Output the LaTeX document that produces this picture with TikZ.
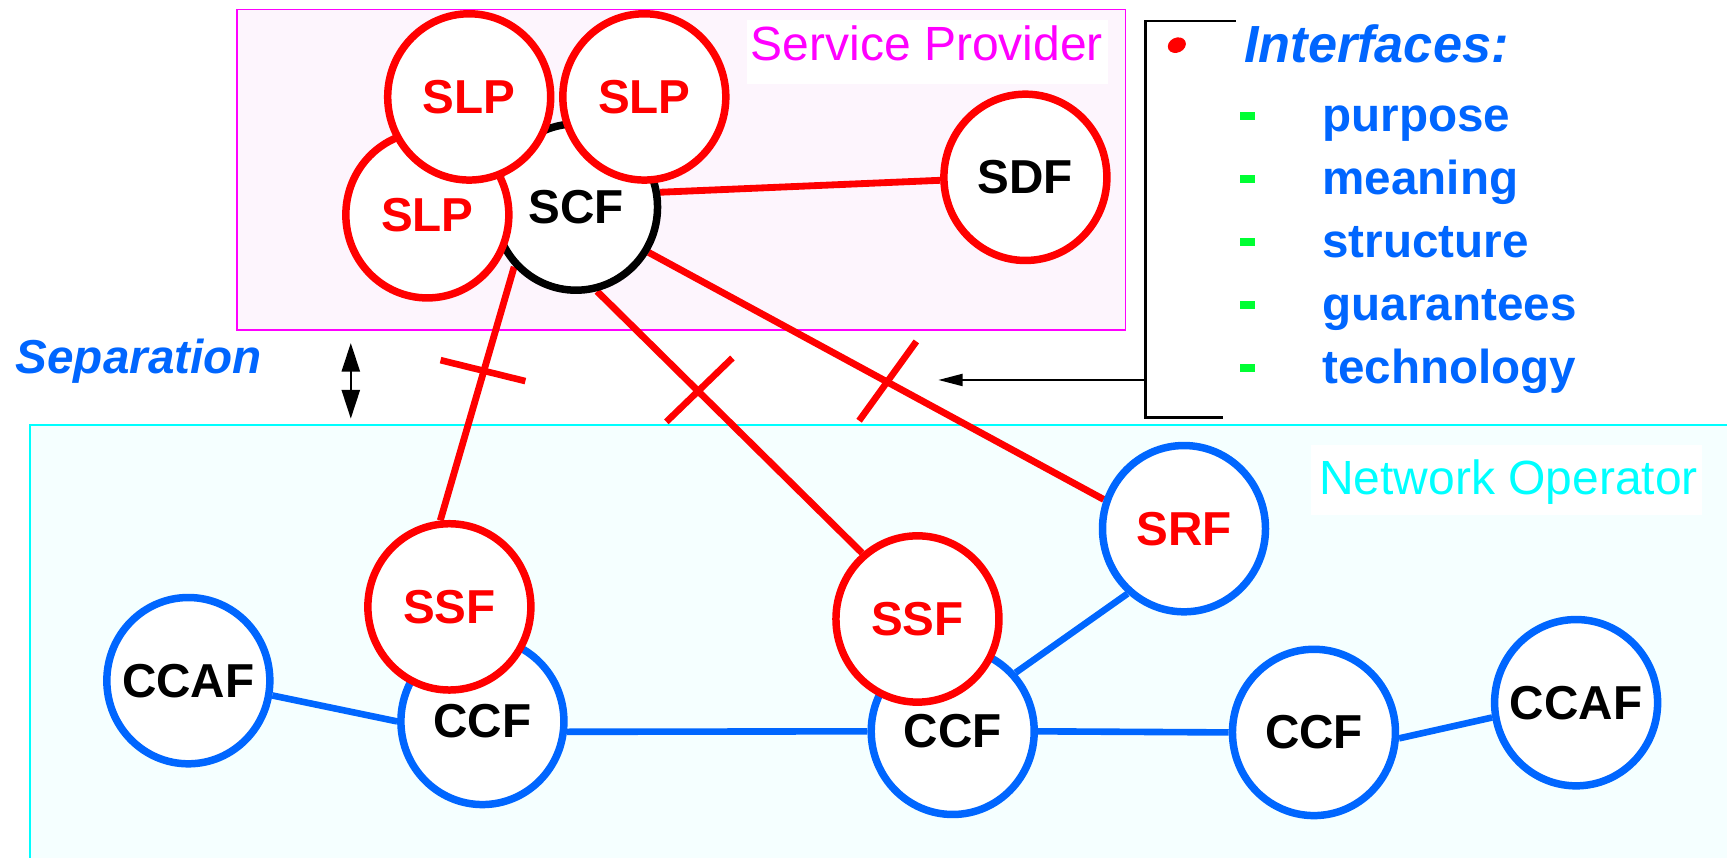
\documentclass[tikz,border=0pt]{standalone}
\usepackage{fontspec}
\setmainfont{Liberation Sans}
\usetikzlibrary{shapes.geometric,arrows.meta}
\definecolor{myred}{HTML}{FF0000}
\definecolor{myblue}{HTML}{0066FF}
\definecolor{mygreen}{HTML}{00FF33}
\definecolor{spfill}{HTML}{FDF5FD}
\definecolor{nofill}{HTML}{F5FFFF}
\definecolor{mymag}{HTML}{FF00FF}
\definecolor{mycyan}{HTML}{00FFFF}
\newcommand\fixlbl[1]{\makebox[0pt][c]{#1}}
\pgfdeclarelayer{bg}
\pgfdeclarelayer{edges}
\pgfsetlayers{bg,edges,main}
\begin{document}
\begin{tikzpicture}[x=0.1mm,y=-0.1mm,
  fn/.style={ellipse, line width=0.68mm, fill=white, minimum width=14.8mm, minimum height=15.1mm, inner sep=0pt, font=\fontsize{12.3}{14}\selectfont\bfseries},
  rr/.style={fn, draw=myred, text=myred},
  rk/.style={fn, draw=myred, text=black},
  kk/.style={fn, draw=black, text=black},
  br/.style={fn, draw=myblue, text=myred},
  bk/.style={fn, draw=myblue, text=black},
  redge/.style={draw=myred, line width=0.62mm},
  bedge/.style={draw=myblue, line width=0.6mm},
  crosstick/.style={draw=myred, line width=0.6mm},
  listitem/.style={anchor=base west, inner sep=0pt, text=myblue, font=\fontsize{12.3}{14}\selectfont\bfseries},
  boxlabel/.style={anchor=base west, inner sep=0pt, font=\fontsize{12.4}{14}\selectfont},
  greendash/.style={fill=mygreen},
]
\useasboundingbox (0,0) rectangle (1568,779);
\clip (0,0) rectangle (1568,779);

% nodes (front to back order matters)
\node[kk] (SCF) at (523,188) {\fixlbl{SCF}};
\node[rr] (SLPc) at (388,195) {\fixlbl{SLP}};
\node[rr] (SLPa) at (426,88) {\fixlbl{SLP}};
\node[rr] (SLPb) at (585,88) {\fixlbl{SLP}};
\node[rk] (SDF) at (931,161) {\fixlbl{SDF}};
\node[br] (SRF) at (1075,480) {\fixlbl{SRF}};
\node[bk] (CCAFa) at (171,618) {\fixlbl{CCAF}};
\node[bk] (CCFa) at (438,655) {\fixlbl{CCF}};
\node[bk] (CCFb) at (865,664) {\fixlbl{CCF}};
\node[bk] (CCFc) at (1193,665) {\fixlbl{CCF}};
\node[bk] (CCAFb) at (1431,638) {\fixlbl{CCAF}};
\node[rr] (SSFa) at (408,551) {\fixlbl{SSF}};
\node[rr] (SSFb) at (833,562) {\fixlbl{SSF}};

\begin{pgfonlayer}{bg}
  \fill[spfill] (215,8.5) rectangle (1022,299.5);
  \draw[mymag, line width=0.15mm] (215,8.5) rectangle (1022,299.5);
  \fill[white] (678,18) rectangle (1006,76);
  \fill[nofill] (27,386) rectangle (1600,820);
  \draw[mycyan, line width=0.2mm] (1600,386) -- (27,386) -- (27,820);
  \fill[white] (1190,404) rectangle (1545,468);
\end{pgfonlayer}

\node[boxlabel, text=mymag] (splabel) at (681,54.5) {Service Provider};
\node[boxlabel, text=mycyan] (nolabel) at (1197,448.6) {Network Operator};

\begin{pgfonlayer}{edges}
  \draw[redge] (SCF.10) -- (SDF.182);
  \draw[redge] (SCF.224) -- (SSFa.96);
  \draw[redge] (SCF.284) -- (SSFb.130);
  \draw[redge] (SCF.-32) -- (SRF.160);
  \draw[bedge] (SRF.229) -- (CCFb.43);
  \draw[bedge] (CCAFa.-10) -- (CCFa.180);
  \draw[bedge] (CCFa.-7) -- (CCFb.180);
  \draw[bedge] (CCFb.0) -- (CCFc.180);
  \draw[bedge] (CCFc.-4) -- (CCAFb.190);
\end{pgfonlayer}

% crossing ticks
\draw[crosstick] (400,327) -- (477,346);
\draw[crosstick] (605,383) -- (665,325);
\draw[crosstick] (780,382) -- (832,310);

% separation
\node[anchor=base west, inner sep=0pt, text=myblue, font=\fontsize{12.3}{14}\selectfont\bfseries\itshape] (sep) at (13.6,339) {Separation};
\coordinate (sepTop) at (318.5,311.5);
\coordinate (sepBot) at (318.5,380);
\draw[line width=0.15mm, {Triangle[length=2.6mm,width=1.66mm]}-{Triangle[length=2.6mm,width=1.66mm]}] (sepTop) -- (sepBot);

% interfaces bracket
\draw[line width=0.2mm] (1122,19) -- (1040,19) -- (1040,379) -- (1110,379);
\coordinate (brk) at (1040,345);
\coordinate (tip) at (852,345);
\draw[line width=0.15mm, -{Triangle[length=2.2mm,width=1.1mm]}] (brk) -- (tip);
\node[ellipse, fill=myred, minimum width=1.7mm, minimum height=1.35mm, inner sep=0pt, rotate=25] (bullet) at (1068.5,41) {};
\node[anchor=base west, inner sep=0pt, text=myblue, font=\fontsize{13.5}{16}\selectfont\bfseries\itshape] (intf) at (1129,57) {Interfaces:};

\foreach \t [count=\i from 0] in {purpose,meaning,structure,guarantees,technology}{
  \pgfmathsetmacro{\yb}{119.5+57.2*\i}
  \fill[greendash] (1126,\yb-17.8) rectangle (1139,\yb-10.3);
  \node[listitem] (it\i) at (1200,\yb) {\t};
}
\end{tikzpicture}
\end{document}
